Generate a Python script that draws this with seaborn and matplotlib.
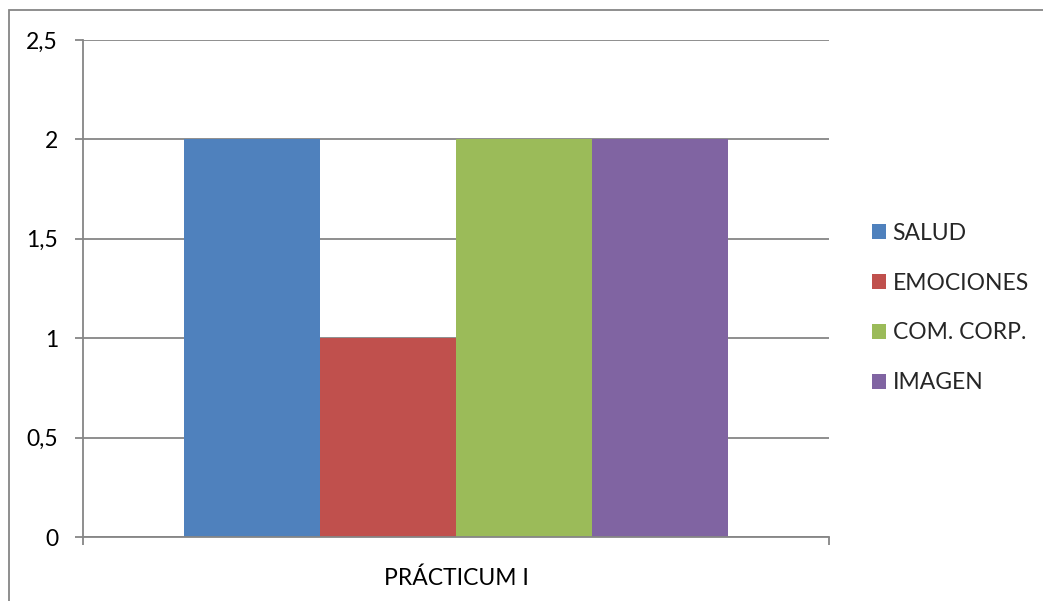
import matplotlib
matplotlib.use("Agg")
import matplotlib.pyplot as plt
import matplotlib.patches as mpatches
from matplotlib.ticker import FuncFormatter
import seaborn as sns
import pandas as pd

categorias = ["PRÁCTICUM I"]
series = ["SALUD", "EMOCIONES", "COM. CORP.", "IMAGEN"]
valores = [2, 1, 2, 2]
colores = ["#4F81BD", "#C0504D", "#9BBB59", "#8064A2"]
y_ticks = [0, 0.5, 1, 1.5, 2, 2.5]

df = pd.DataFrame({
    "categoria": categorias * len(series),
    "serie": series,
    "valor": valores,
})

sns.set_theme(style="white")
plt.rcParams["font.family"] = ["Lato", "DejaVu Sans"]

W, H = 1043, 601
fig = plt.figure(figsize=(W / 100, H / 100), dpi=100)
ax = fig.add_axes([83 / W, 1 - 537 / H, (829 - 83) / W, (537 - 40) / H])

sns.barplot(data=df, x="categoria", y="valor", hue="serie", hue_order=series,
            palette=colores, saturation=1, width=0.728, ax=ax, legend=False,
            edgecolor="none", linewidth=0)

grid_c = "#868686"
fs = 16.5
ax.set_xlim(-0.5, 0.5)
ax.set_ylim(0, 2.5)
ax.set_yticks(y_ticks)
ax.yaxis.set_major_formatter(FuncFormatter(lambda v, p: (f"{v:g}").replace(".", ",")))
ax.grid(axis="y", color=grid_c, linewidth=1.3)
ax.set_axisbelow(True)
for s in ["top", "right"]:
    ax.spines[s].set_visible(False)
for s in ["left", "bottom"]:
    ax.spines[s].set_color(grid_c)
    ax.spines[s].set_linewidth(1.3)
ax.set_xlabel("")
ax.set_ylabel("")
ax.tick_params(axis="y", which="major", direction="out", length=6, width=1.3,
               color=grid_c, pad=12, labelsize=fs, left=True, labelcolor="black")
ax.set_xticks([-0.5, 0.5], minor=True)
ax.tick_params(axis="x", which="minor", direction="out", length=6, width=1.3,
               color=grid_c, bottom=True)
ax.tick_params(axis="x", which="major", length=0, pad=22, labelsize=fs,
               labelcolor="black")

# outer chart border
fig.patches.append(mpatches.Rectangle((8.5 / W, -0.1), 1.2, 1 - 9.5 / H + 0.1,
                                      transform=fig.transFigure, fill=False,
                                      edgecolor="#868686", linewidth=1.3))

handles = [mpatches.Patch(facecolor=c, edgecolor="none") for c in colores]
fig.legend(handles, series, loc="center left", bbox_to_anchor=(872 / W, 1 - 308 / H),
           frameon=False, fontsize=fs, handlelength=0.62, handleheight=0.62,
           handletextpad=0.28, labelspacing=1.26, borderaxespad=0, borderpad=0)

fig.savefig("out.png", dpi=100)
